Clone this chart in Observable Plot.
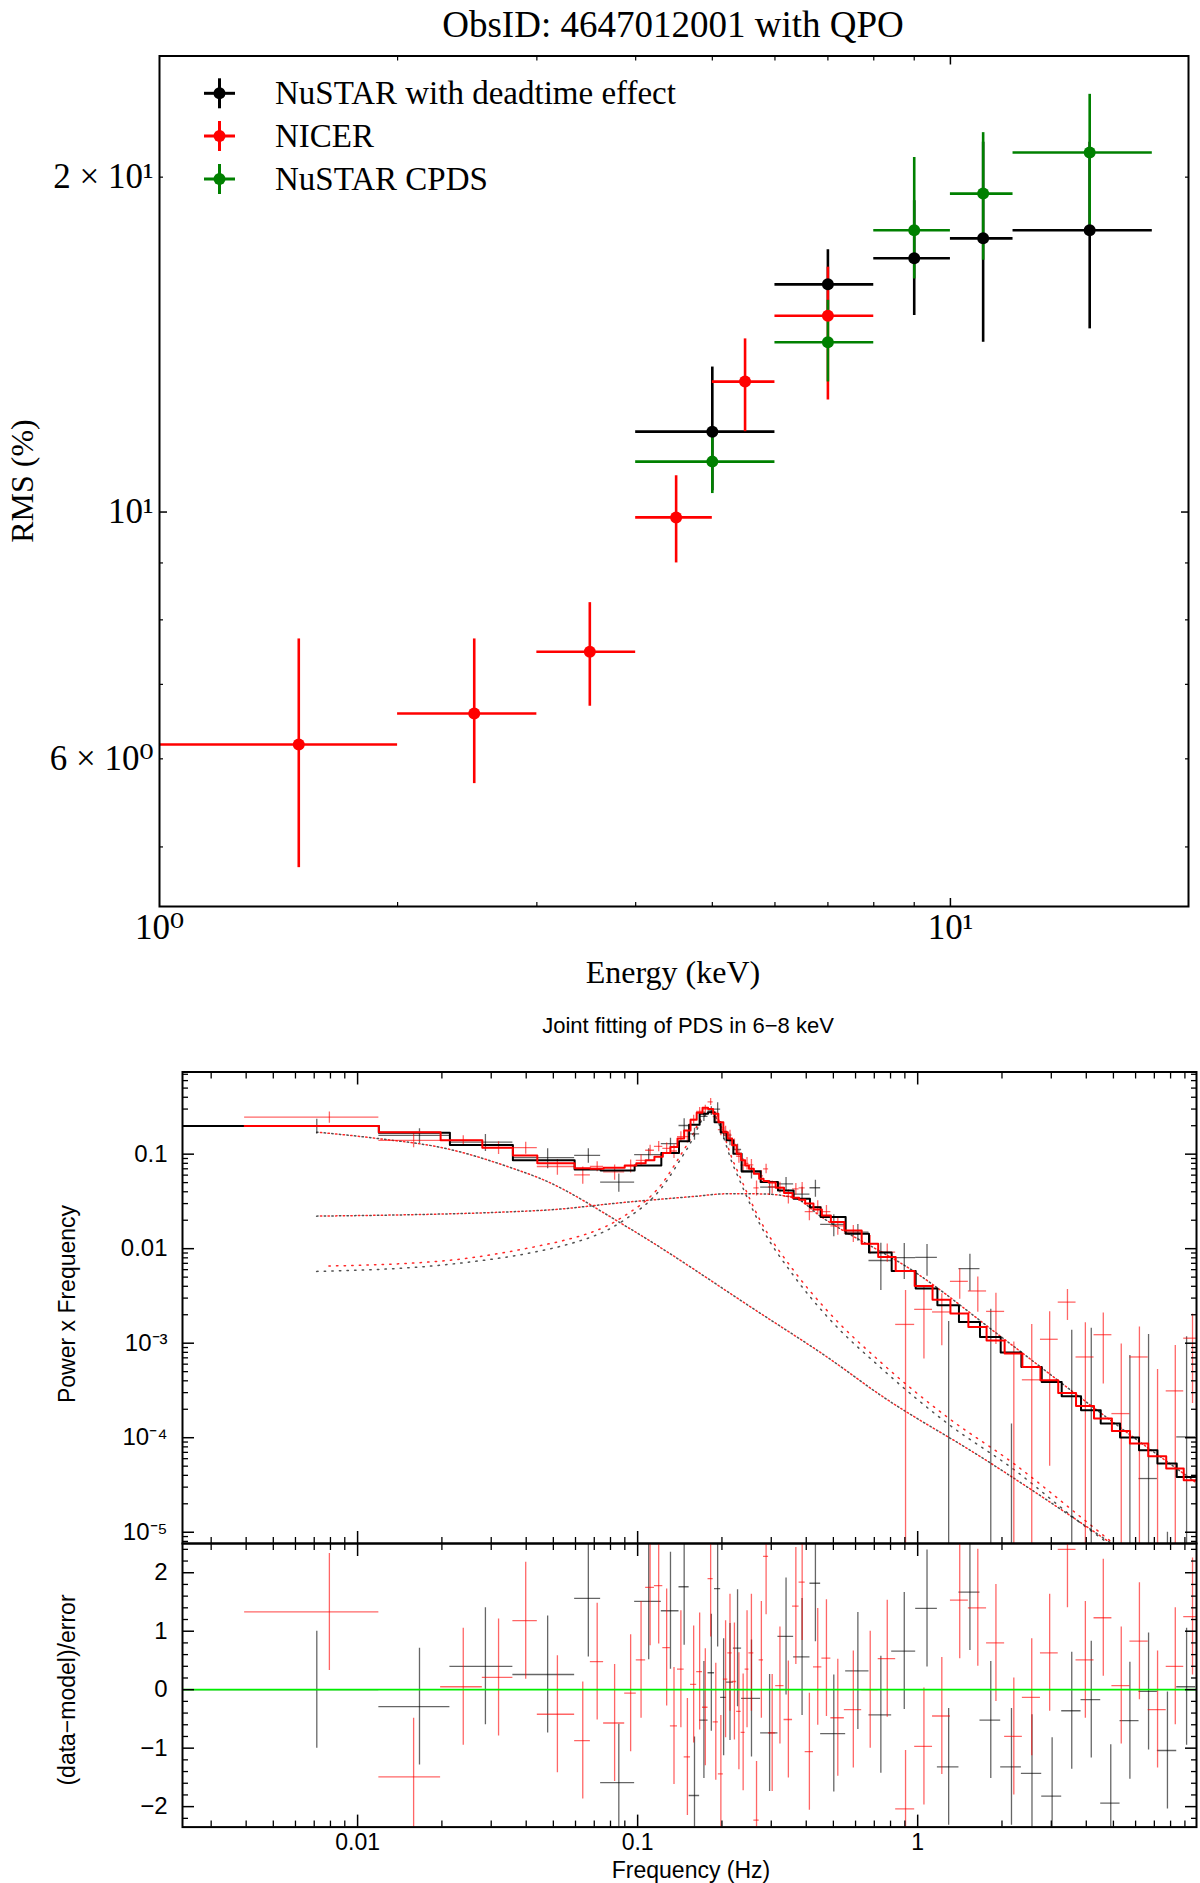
<!DOCTYPE html>
<html>
<head>
<meta charset="utf-8">
<script src="https://cdn.jsdelivr.net/npm/d3@7"></script>
<script src="https://cdn.jsdelivr.net/npm/@observablehq/plot@0.6"></script>
<style>
  body { margin: 0; background: #fff; }
  #page { position: relative; width: 1200px; height: 1883px; overflow: hidden; background: #fff; }
  .lbl { position: absolute; white-space: nowrap; line-height: 1; color: #000; }
  .serif { font-family: 'Liberation Serif', 'DejaVu Serif', serif; }
  .sans { font-family: 'Liberation Sans', Arial, sans-serif; }
</style>
</head>
<body>
<div id="page"></div>
<script>
// ---------- top panel: RMS vs energy ----------
const nicerE = [1.5, 2.5, 3.5, 4.5, 5.5, 7];
const nicerELo = [1, 2, 3, 4, 5, 6];
const nicerEHi = [2, 3, 4, 5, 6, 8];
const nicerRms = [6.18, 6.59, 7.49, 9.89, 13.1, 15.01];
const nicerRmsLo = [4.79, 5.70, 6.69, 9.00, 11.81, 12.61];
const nicerRmsHi = [7.69, 7.69, 8.29, 10.78, 14.31, 16.6];

const nustarE = [5, 7, 9, 11, 15];
const nustarELo = [4, 6, 8, 10, 12];
const nustarEHi = [6, 8, 10, 12, 18];
const deadRms = [11.81, 16.02, 16.91, 17.62, 17.92];
const deadRmsLo = [10.45, 14.9, 15.02, 14.21, 14.61];
const deadRmsHi = [13.50, 17.21, 19.05, 21.5, 21.5];
const cpdsRms = [11.10, 14.21, 17.92, 19.33, 21.05];
const cpdsRmsLo = [10.39, 13.09, 16.20, 16.84, 17.92];
const cpdsRmsHi = [11.8, 15.5, 20.83, 21.93, 23.74];

const legendNames = ["NuSTAR with deadtime effect", "NICER", "NuSTAR CPDS"];
const legendColors = ["#000000", "#ff0000", "#008000"];

// ---------- bottom panel: joint PDS fit, 6-8 keV ----------
// NICER (red) bins
const nicerEdges = [0.00395, 0.01191, 0.01979, 0.02789, 0.03585, 0.04383, 0.05957, 0.0678, 0.0756, 0.0899,
  0.0989, 0.1068, 0.1148, 0.1230, 0.1309, 0.1388, 0.1466, 0.1545, 0.1625, 0.1705, 0.1784, 0.1861, 0.1942,
  0.2023, 0.2099, 0.2175, 0.2257, 0.2342, 0.2420, 0.2497, 0.2600, 0.2716, 0.2816, 0.2935, 0.3111, 0.3333,
  0.3574, 0.3771, 0.3965, 0.4245, 0.4548, 0.4898, 0.5472, 0.6310, 0.7228, 0.8345, 0.9756, 1.130, 1.309,
  1.517, 1.762, 2.044, 2.365, 2.744, 3.176, 3.677, 4.263, 4.938, 5.727, 6.657, 7.718, 8.913, 10.25];
const nicerModel = [0.198, 0.171, 0.140, 0.117, 0.097, 0.080, 0.071, 0.070, 0.072, 0.076,
  0.080, 0.086, 0.094, 0.103, 0.119, 0.146, 0.178, 0.231, 0.274, 0.309,
  0.300, 0.267, 0.218, 0.171, 0.146, 0.124, 0.101, 0.086, 0.076, 0.070,
  0.062, 0.055, 0.052, 0.050, 0.0441, 0.0388, 0.0345, 0.0330, 0.0300, 0.0259,
  0.0225, 0.0191, 0.0156, 0.0113, 0.00815, 0.0058, 0.00403, 0.00289, 0.00206, 0.00148,
  0.00107, 0.000776, 0.00056, 0.000406, 0.000298, 0.000217, 0.00016, 0.000118, 0.0000869, 0.0000637,
  0.0000472, 0.0000355];
const nicerPow = [0.246, 0.140, 0.140, 0.117, 0.117, 0.074, 0.0605, 0.074, 0.065, 0.075,
  0.086, 0.110, 0.121, 0.115, 0.108, 0.153, 0.153, 0.233, 0.283, 0.300,
  0.357, 0.250, 0.182, 0.175, 0.159, 0.127, 0.095, 0.0765, 0.080, 0.077,
  0.044, 0.059, 0.070, 0.045, 0.0445, 0.0357, 0.043, 0.044, 0.0247, 0.0277,
  0.0247, 0.0174, 0.0146, 0.0113, 0.0092, 0.00158, 0.00228, 0.00214, 0.00451, 0.00357,
  0.00217, -0.00024, 0.00041, 0.0011, 0.00272, 0.000715, 0.00123, 0.00018, 0.000715, -0.000174,
  0.000313, 0.00113];
const nicerErr = [0.034, 0.023, 0.017, 0.018, 0.017, 0.014, 0.0125, 0.009, 0.012, 0.012,
  0.012, 0.014, 0.015, 0.016, 0.018, 0.020, 0.022, 0.025, 0.028, 0.030,
  0.030, 0.030, 0.025, 0.022, 0.020, 0.018, 0.015, 0.013, 0.012, 0.011,
  0.008, 0.008, 0.008, 0.007, 0.006, 0.006, 0.006, 0.006, 0.005, 0.0045,
  0.004, 0.0035, 0.003, 0.0025, 0.002, 0.00204, 0.0016, 0.0012, 0.0016, 0.00145,
  0.0012, 0.00127, 0.00117, 0.00105, 0.00098, 0.00093, 0.00086, 0.0008, 0.00077, 0.0007,
  0.00063, 0.0009];
const nicerRes = [1.33, -1.49, 0.05, 0.21, 1.18, -0.42, -0.87, 0.48, -0.57, -0.06,
  0.51, 1.75, 1.78, 0.72, -0.62, 0.35, -1.15, 0.09, 0.31, -0.30,
  1.90, -0.55, -1.44, 0.18, 0.63, 0.14, -0.37, -0.73, 0.35, 0.63,
  -2.23, 0.51, 2.28, -0.74, 0.07, -0.51, 1.43, 1.84, -1.06, 0.39,
  0.54, -0.48, -0.34, 0.0, 0.53, -2.04, -0.97, -0.45, 1.53, 1.40,
  0.80, -0.80, -0.13, 0.63, 2.40, 0.51, 1.23, 0.07, 0.83, -0.34,
  0.40, 1.25];

// NuSTAR (black) bins
const nustarEdges = [0.00239, 0.01191, 0.02136, 0.03585, 0.05957, 0.07377, 0.09756, 0.1215, 0.1405, 0.1527,
  0.1665, 0.1784, 0.1882, 0.1979, 0.2077, 0.2197, 0.2351, 0.2749, 0.3170, 0.3606, 0.4124, 0.4503, 0.5531,
  0.6700, 0.8075, 0.9837, 1.176, 1.404, 1.669, 1.979, 2.346, 2.773, 3.268, 3.831, 4.504, 5.280, 6.171,
  7.179, 8.414, 9.837];
const nustarModel = [0.198, 0.168, 0.125, 0.086, 0.069, 0.067, 0.076, 0.103, 0.137, 0.205,
  0.267, 0.278, 0.218, 0.171, 0.140, 0.101, 0.066, 0.0506, 0.0413, 0.0338,
  0.0275, 0.0216, 0.0144, 0.0091, 0.0058, 0.00378, 0.00252, 0.00168, 0.00116, 0.000796,
  0.00056, 0.000389, 0.000275, 0.000195, 0.000141, 0.0001005, 0.0000738, 0.0000533, 0.0000385];
const nustarPow = [0.198, 0.158, 0.134, 0.092, 0.097, 0.0505, 0.099, 0.129, 0.201, 0.164,
  0.251, 0.287, 0.300, 0.168, 0.143, 0.112, 0.0645, 0.0447, 0.0486, 0.0377,
  0.0441, 0.0181, 0.0150, 0.0075, 0.00803, 0.0081, -0.00086, 0.00615, -0.00005, -0.00191,
  -0.0027, -0.0031, -0.00034, -0.00011, -0.0025, -0.00063, 0.000037, -0.00092, 0.000102];
const nustarErr = [0.036, 0.028, 0.027, 0.022, 0.017, 0.011, 0.015, 0.018, 0.036, 0.024,
  0.030, 0.030, 0.050, 0.025, 0.020, 0.015, 0.010, 0.008, 0.008, 0.007,
  0.009, 0.0047, 0.003, 0.0039, 0.0033, 0.003, 0.00256, 0.0026, 0.00233, 0.00205,
  0.0023, 0.0019, 0.00171, 0.00155, 0.0014, 0.00137, 0.0012, 0.00093, 0.00107];
const nustarRes = [0.0, -0.29, 0.40, 0.26, 1.56, -1.59, 1.51, 1.35, 1.76, -1.81,
  -0.52, 0.29, 1.73, -0.13, 0.13, 0.71, -0.15, -0.74, 0.91, 0.56,
  1.82, -0.75, 0.32, -0.43, 0.66, 1.39, -1.32, 1.67, -0.52, -1.32,
  -1.43, -1.82, -0.36, -0.17, -1.94, -0.53, -0.03, -1.04, 0.05];

// model components (dotted)
const lowCompF = [0.00714, 0.0119, 0.0209, 0.0362, 0.0451, 0.0919, 0.275, 0.476, 0.738, 1.68, 5.02];
const lowCompP = [0.171, 0.146, 0.114, 0.070, 0.055, 0.0169, 0.00206, 0.00071, 0.000281, 0.0000627, 0.0000073];
const broadCompF = [0.00714, 0.0451, 0.0919, 0.159, 0.209, 0.275, 0.362, 0.45, 1.0, 2.0, 5.0, 9.8];
const broadCompP = [0.0221, 0.0254, 0.0311, 0.0357, 0.0381, 0.038, 0.0346, 0.022, 0.0054, 0.00115, 0.000145, 0.000034];
const qpoNicerF = [0.0079, 0.0209, 0.0451, 0.0531, 0.087, 0.121, 0.15, 0.182, 0.221, 0.275, 0.362, 0.476, 0.738, 1.276, 2.208, 3.82, 5.0];
const qpoNicerP = [0.00655, 0.0075, 0.0108, 0.0120, 0.021, 0.047, 0.125, 0.30, 0.08, 0.0195, 0.0058, 0.0022, 0.00063, 0.000165, 0.000053, 0.0000145, 0.0000076];
const qpoNustarF = [0.00714, 0.0209, 0.0451, 0.0531, 0.087, 0.121, 0.15, 0.182, 0.221, 0.275, 0.362, 0.476, 0.738, 1.276, 2.208, 3.82, 4.8];
const qpoNustarP = [0.00575, 0.0068, 0.0095, 0.0106, 0.019, 0.043, 0.113, 0.28, 0.072, 0.0175, 0.0051, 0.0019, 0.00055, 0.000142, 0.000046, 0.0000125, 0.0000076];

// ---------- helpers ----------
const serif = "'Liberation Serif', 'DejaVu Serif', serif";
const sans = "'Liberation Sans', Arial, sans-serif";
const page = document.getElementById("page");

function place(svg, y) {
  svg.style.position = "absolute";
  svg.style.left = "0px";
  svg.style.top = y + "px";
  svg.style.background = "transparent";
  svg.style.overflow = "visible";
  page.append(svg);
}
function label(text, x, y, cls, size, mode) {
  const d = document.createElement("div");
  d.className = "lbl " + cls;
  d.textContent = text;
  d.style.left = x + "px";
  d.style.top = y + "px";
  d.style.fontSize = size + "px";
  d.style.transform = mode === "rot" ? "translate(-50%, -50%) rotate(-90deg)"
    : mode === "left" ? "translate(0, -50%)" : "translate(-50%, -50%)";
  page.append(d);
}
// inward ticks on both sides of an axis
function inTicks(dim, ticks, len, sw) {
  const A = dim === "x" ? Plot.axisX : Plot.axisY;
  const anchors = dim === "x" ? ["bottom", "top"] : ["left", "right"];
  return anchors.map(anchor => A({anchor, ticks, tickSize: -len, tickFormat: () => "", label: null, strokeWidth: sw}));
}
const minorLog = (k0, k1, lo, hi) => d3.range(k0, k1 + 1)
  .flatMap(k => d3.range(2, 10).map(m => m * Math.pow(10, k)))
  .filter(t => t > lo && t < hi);

// ---------- top panel ----------
const topX = [1, 20], topY = [4.42, 25.7];
function rmsRows(E, lo, hi, y, y1, y2) {
  return E.map((e, i) => ({e, lo: lo[i], hi: hi[i], y: y[i], y1: y1[i], y2: y2[i]}));
}
const deadRows = rmsRows(nustarE, nustarELo, nustarEHi, deadRms, deadRmsLo, deadRmsHi);
const nicerRows = rmsRows(nicerE, nicerELo, nicerEHi, nicerRms, nicerRmsLo, nicerRmsHi);
const cpdsRows = rmsRows(nustarE, nustarELo, nustarEHi, cpdsRms, cpdsRmsLo, cpdsRmsHi);
const errLines = (rows, c) => [
  Plot.ruleY(rows, {x1: "lo", x2: "hi", y: "y", stroke: c, strokeWidth: 2.6}),
  Plot.ruleX(rows, {x: "e", y1: "y1", y2: "y2", stroke: c, strokeWidth: 2.6})
];
const topXLab = {1: "10⁰", 10: "10¹"};
const topYLab = {6: "6 × 10⁰", 10: "10¹", 20: "2 × 10¹"};

const rmsPlot = Plot.plot({
  width: 1200, height: 1000,
  marginLeft: 159, marginRight: 12, marginTop: 55.5, marginBottom: 94,
  x: {type: "log", domain: topX},
  y: {type: "log", domain: topY},
  marks: [
    ...errLines(deadRows, legendColors[0]),
    ...errLines(nicerRows, legendColors[1]),
    ...errLines(cpdsRows, legendColors[2]),
    Plot.dot(deadRows, {x: "e", y: "y", r: 6, fill: legendColors[0]}),
    Plot.dot(nicerRows, {x: "e", y: "y", r: 6, fill: legendColors[1]}),
    Plot.dot(cpdsRows, {x: "e", y: "y", r: 6, fill: legendColors[2]}),
    ...inTicks("x", [10], 8, 1.5),
    ...inTicks("x", minorLog(0, 1, 1, 20), 4, 1.2),
    ...inTicks("y", [10], 8, 1.5),
    ...inTicks("y", [5, 6, 7, 8, 9, 20], 4, 1.2),
    Plot.axisX({anchor: "bottom", ticks: [1, 10], tickSize: 0, tickPadding: 8, tickFormat: d => topXLab[d],
      label: null, fontSize: 35, fontFamily: serif}),
    Plot.axisY({anchor: "left", ticks: [6, 10, 20], tickSize: 0, tickPadding: 6, tickFormat: d => topYLab[d],
      label: null, fontSize: 35, fontFamily: serif}),
    Plot.frame({stroke: "#000", strokeWidth: 2})
  ]
});
place(rmsPlot, 0);

label("ObsID: 4647012001 with QPO", 673, 24, "serif", 37);
label("RMS (%)", 22, 481, "serif", 32, "rot");
label("Energy (keV)", 673, 972, "serif", 32);

// legend handles
const leg = d3.create("svg").attr("width", 60).attr("height", 140);
const legY = [93.3, 136, 179];
legendColors.forEach((c, i) => {
  const y = legY[i] - 60;
  const g = leg.append("g").attr("stroke", c).attr("stroke-width", 3);
  g.append("line").attr("x1", 4).attr("x2", 35).attr("y1", y).attr("y2", y);
  g.append("line").attr("x1", 19.5).attr("x2", 19.5).attr("y1", y - 15).attr("y2", y + 15);
  leg.append("circle").attr("cx", 19.5).attr("cy", y).attr("r", 6).attr("fill", c);
});
const legNode = leg.node();
legNode.style.position = "absolute";
legNode.style.left = "200px";
legNode.style.top = "60px";
page.append(legNode);
legendNames.forEach((n, i) => label(n, 275, legY[i], "serif", 33, "left"));

// ---------- bottom panels ----------
const fDomain = [0.00237, 9.9];
function binRows(edges, pow, err, model, res) {
  return pow.map((p, i) => ({
    lo: edges[i], hi: edges[i + 1], mid: (edges[i] + edges[i + 1]) / 2,
    p, e: err[i], m: model[i], r: res[i]
  }));
}
const nustarRows = binRows(nustarEdges, nustarPow, nustarErr, nustarModel, nustarRes);
const nicerBins = binRows(nicerEdges, nicerPow, nicerErr, nicerModel, nicerRes);
const steps = rows => [...rows.map(d => ({f: d.lo, m: d.m})), {f: rows[rows.length - 1].hi, m: rows[rows.length - 1].m}];
const curve = (F, P) => F.map((f, i) => ({f, p: P[i]}));

const BLK = "#000000", RED = "#ff0000";
function pdsCross(rows, c, op) {
  return [
    Plot.ruleY(rows.filter(d => d.p > 0), {x1: "lo", x2: "hi", y: "p", stroke: c, strokeOpacity: op, strokeWidth: 1.3, clip: true}),
    Plot.ruleX(rows.filter(d => d.p + d.e > 0), {x: "mid", y1: d => Math.max(d.p - d.e, 1e-8), y2: d => d.p + d.e,
      stroke: c, strokeOpacity: op, strokeWidth: 1.3, clip: true})
  ];
}
function dotted(data, c, offset) {
  return Plot.line(data, {x: "f", y: "p", curve: "monotone-x", stroke: c, strokeWidth: 1.5, strokeOpacity: 0.85,
    strokeDasharray: "1.4,6.2", strokeDashoffset: offset, clip: true});
}
const fMajor = [0.01, 0.1, 1];
const fMinor = minorLog(-3, 0, fDomain[0], fDomain[1]);
const fLab = {0.01: "0.01", 0.1: "0.1", 1: "1"};
const pLab = {"-1": "0.1", "-2": "0.01", "-3": "10⁻³", "-4": "10⁻⁴", "-5": "10⁻⁵"};

const pdsPlot = Plot.plot({
  width: 1200, height: 545,
  marginLeft: 182, marginRight: 4, marginTop: 71.5, marginBottom: 2,
  x: {type: "log", domain: fDomain},
  y: {type: "log", domain: [7.6e-6, 0.74]},
  marks: [
    dotted(curve(lowCompF, lowCompP), "#333", 0),
    dotted(curve(lowCompF, lowCompP), RED, 3.8),
    dotted(curve(broadCompF, broadCompP), "#333", 0),
    dotted(curve(broadCompF, broadCompP), RED, 3.8),
    dotted(curve(qpoNustarF, qpoNustarP), "#333", 0),
    dotted(curve(qpoNicerF, qpoNicerP), RED, 0),
    ...pdsCross(nustarRows, BLK, 0.6),
    ...pdsCross(nicerBins, RED, 0.6),
    Plot.line(steps(nustarRows), {x: "f", y: "m", curve: "step-after", stroke: BLK, strokeWidth: 2, clip: true}),
    Plot.line(steps(nicerBins), {x: "f", y: "m", curve: "step-after", stroke: RED, strokeWidth: 2, clip: true}),
    ...inTicks("x", fMajor, 12, 1.5),
    ...inTicks("x", fMinor, 6, 1.3),
    ...inTicks("y", [1e-5, 1e-4, 1e-3, 1e-2, 1e-1], 12, 1.5),
    ...inTicks("y", minorLog(-6, -1, 7.6e-6, 0.74), 6, 1.3),
    Plot.axisY({anchor: "left", ticks: [1e-5, 1e-4, 1e-3, 1e-2, 1e-1], tickSize: 0, tickPadding: 15,
      tickFormat: d => pLab[Math.round(Math.log10(d))], label: null, fontSize: 24, fontFamily: sans}),
    Plot.frame({stroke: "#000", strokeWidth: 2})
  ]
});
place(pdsPlot, 1000);

const residPlot = Plot.plot({
  width: 1200, height: 340,
  marginLeft: 182, marginRight: 4, marginTop: 0, marginBottom: 56.4,
  x: {type: "log", domain: fDomain},
  y: {domain: [-2.35, 2.5]},
  marks: [
    Plot.ruleY(nustarRows, {x1: "lo", x2: "hi", y: "r", stroke: BLK, strokeOpacity: 0.6, strokeWidth: 1.3, clip: true}),
    Plot.ruleX(nustarRows, {x: "mid", y1: d => d.r - 1, y2: d => d.r + 1, stroke: BLK, strokeOpacity: 0.6, strokeWidth: 1.3, clip: true}),
    Plot.ruleY(nicerBins, {x1: "lo", x2: "hi", y: "r", stroke: RED, strokeOpacity: 0.6, strokeWidth: 1.3, clip: true}),
    Plot.ruleX(nicerBins, {x: "mid", y1: d => d.r - 1, y2: d => d.r + 1, stroke: RED, strokeOpacity: 0.6, strokeWidth: 1.3, clip: true}),
    Plot.ruleY([0], {stroke: "#00ee00", strokeWidth: 1.8}),
    ...inTicks("x", fMajor, 12, 1.5),
    ...inTicks("x", fMinor, 6, 1.3),
    ...inTicks("y", [-2, -1, 0, 1, 2], 12, 1.5),
    ...inTicks("y", d3.range(-11, 13).map(k => k / 5).filter(v => Math.abs(v - Math.round(v)) > 1e-9), 6, 1.3),
    Plot.axisY({anchor: "left", ticks: [-2, -1, 0, 1, 2], tickSize: 0, tickPadding: 15,
      tickFormat: d => d < 0 ? "−" + (-d) : String(d), label: null, fontSize: 24, fontFamily: sans}),
    Plot.axisX({anchor: "bottom", ticks: fMajor, tickSize: 0, tickPadding: 7,
      tickFormat: d => fLab[d], label: null, fontSize: 23, fontFamily: sans}),
    Plot.frame({stroke: "#000", strokeWidth: 2})
  ]
});
place(residPlot, 1543);

label("Joint fitting of PDS in 6−8 keV", 688, 1026, "sans", 22);
label("Power x Frequency", 67, 1304, "sans", 23, "rot");
label("(data−model)/error", 67, 1690, "sans", 23, "rot");
label("Frequency (Hz)", 691, 1870, "sans", 23);
</script>
</body>
</html>
